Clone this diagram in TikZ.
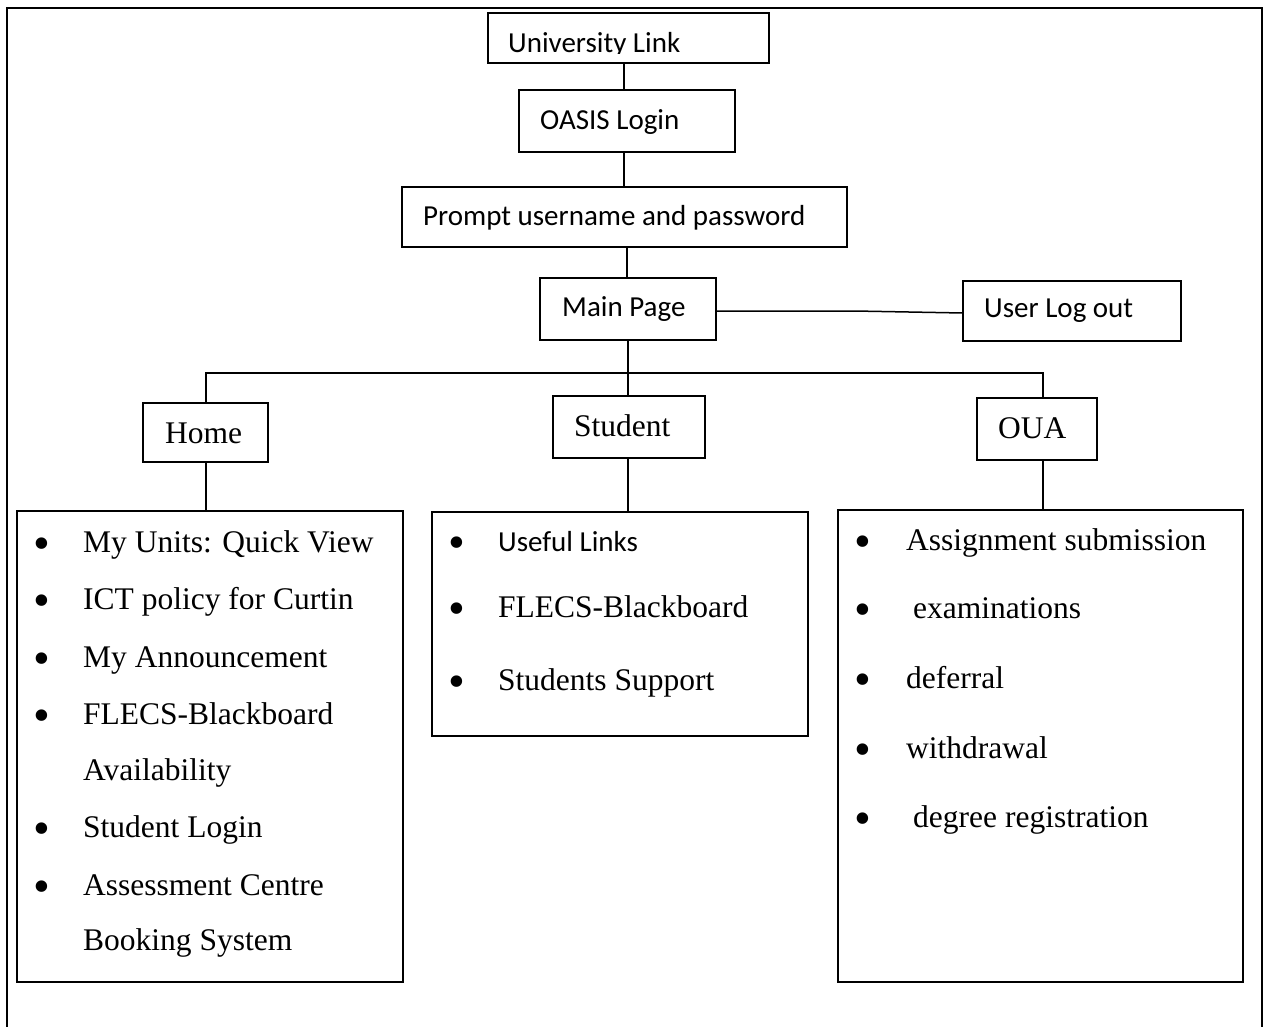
\documentclass[tikz,border=0pt]{standalone}
\usepackage{fontspec}
\setmainfont{Liberation Serif}
\newfontfamily\calfont{Carlito}
\begin{document}
\begin{tikzpicture}[x=1pt,y=-1pt,
 box/.style={draw,line width=1.5pt,inner sep=0pt,outer sep=0pt},
 cal/.style={font=\calfont\fontsize{29}{34}\selectfont,inner sep=0pt,anchor=base west},
 tms/.style={font=\fontsize{31.5}{36}\selectfont,inner sep=0pt,anchor=base west},
 bul/.style={font=\fontsize{48}{52}\selectfont,inner sep=0pt,anchor=base,yshift=-7pt},
 conn/.style={line width=1.5pt}]
\useasboundingbox (0,0) rectangle (1263,1026);
% outer frame
\draw[line width=2pt] (7,1040) -- (7,8) -- (1262,8) -- (1262,1040);
% boxes
\node[box,minimum width=281pt,minimum height=50pt] (uni) at (628.5,38) {};
\node[box,minimum width=216pt,minimum height=62pt] (oasis) at (627,121) {};
\node[box,minimum width=445pt,minimum height=60pt] (prompt) at (624.5,217) {};
\node[box,minimum width=176pt,minimum height=62pt] (main) at (628,309) {};
\node[box,minimum width=218pt,minimum height=60pt] (logout) at (1072,311) {};
\node[box,minimum width=125pt,minimum height=59pt] (home) at (205.5,432.5) {};
\node[box,minimum width=152pt,minimum height=62pt] (student) at (629,427) {};
\node[box,minimum width=120pt,minimum height=62pt] (oua) at (1037,429) {};
\node[box,minimum width=386pt,minimum height=471pt] (homelist) at (210,746.5) {};
\node[box,minimum width=376pt,minimum height=224pt] (studlist) at (620,624) {};
\node[box,minimum width=405pt,minimum height=472pt] (oualist) at (1040.5,746) {};
% box texts
\begin{scope}
\clip (488,13) rectangle (769,53.5);
\node[cal] (tuni) at (508,52) {University Link};
\end{scope}
\node[cal] (toasis) at (540,129) {OASIS Login};
\node[cal] (tprompt) at (423,225) {Prompt username and password};
\node[cal] (tmain) at (562,316) {Main Page};
\node[cal] (tlogout) at (984,317) {User Log out};
\node[tms] (thome) at (165,443) {Home};
\node[tms] (tstudent) at (574,436) {Student};
\node[tms] (toua) at (998,438) {OUA};
% connectors
\coordinate (xa) at (624,0);
\coordinate (xb) at (627,0);
\coordinate (bus) at (628,373);
\coordinate (busL) at (206,373);
\coordinate (busR) at (1043,373);
\coordinate (jog) at (855,311);
\draw[conn] (uni.south -| xa) -- (oasis.north -| xa);
\draw[conn] (oasis.south -| xa) -- (prompt.north -| xa);
\draw[conn] (prompt.south -| xb) -- (main.north -| xb);
\draw[conn] (main.south -| bus) -- (student.north -| bus);
\draw[conn] (home.north -| busL) -- (busL) -- (busR) -- (oua.north -| busR);
\draw[conn] (home.south -| busL) -- (homelist.north -| busL);
\draw[conn] (student.south -| bus) -- (studlist.north -| bus);
\draw[conn] (oua.south -| busR) -- (oualist.north -| busR);
\draw[conn] (main.east |- jog) -- (jog) -- ([yshift=-2pt]logout.west);
% Home list
\foreach \y/\t [count=\i] in {552/My Units: Quick View,609/ICT policy for Curtin,667/My Announcement,724/FLECS-Blackboard,837/Student Login,895/Assessment Centre}{
  \node[bul] (hb\i) at (42,\y) {\textbullet};
  \node[tms] (hi\i) at (83,\y) {\t};
}
\node[tms] (hav) at (83,780) {Availability};
\node[tms] (hbs) at (83,950) {Booking System};
% Student list
\node[bul] (sb1) at (457,551) {\textbullet};
\node[cal] (si1) at (498,551) {Useful Links};
\node[bul] (sb2) at (457,617) {\textbullet};
\node[tms] (si2) at (498,617) {FLECS-Blackboard};
\node[bul] (sb3) at (457,690) {\textbullet};
\node[tms] (si3) at (498,690) {Students Support};
% OUA list
\node[bul] (ob1) at (863,550) {\textbullet};
\node[tms] (oi1) at (906,550) {Assignment submission};
\node[bul] (ob2) at (863,618) {\textbullet};
\node[tms] (oi2) at (913,618) {examinations};
\node[bul] (ob3) at (863,688) {\textbullet};
\node[tms] (oi3) at (906,688) {deferral};
\node[bul] (ob4) at (863,758) {\textbullet};
\node[tms] (oi4) at (906,758) {withdrawal};
\node[bul] (ob5) at (863,827) {\textbullet};
\node[tms] (oi5) at (913,827) {degree registration};
\end{tikzpicture}
\end{document}
